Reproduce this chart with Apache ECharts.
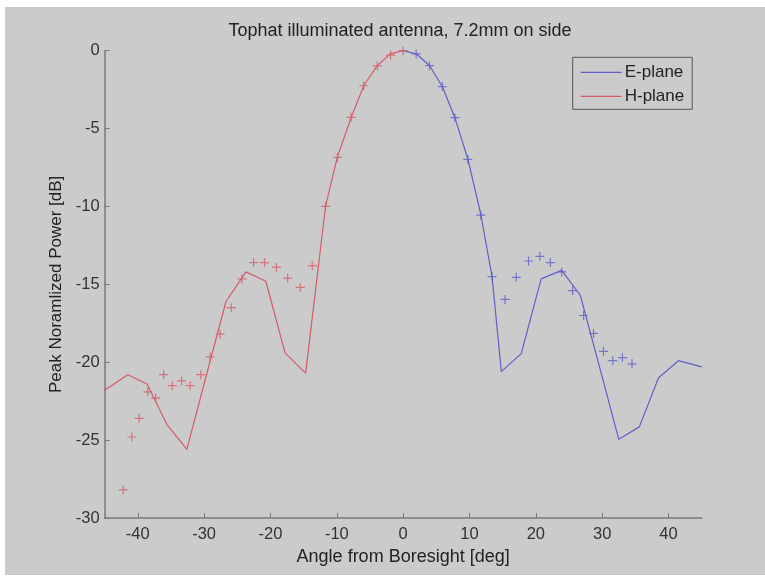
<!DOCTYPE html>
<html>
<head>
<meta charset="utf-8">
<script src="https://cdn.jsdelivr.net/npm/echarts@6/dist/echarts.min.js"></script>
<style>
html,body{margin:0;padding:0;background:#ffffff;}
#chart{position:absolute;left:5px;top:7px;width:760px;height:568px;background:#cbcbcb;}
</style>
</head>
<body>
<div id="chart"></div>
<script>
// Simulated patterns (lines)
const eLineAngles = [0, 1.96, 3.97, 5.9, 7.8, 9.75, 11.7, 13.4, 14.8, 17.8, 20.8, 23.9, 26.7, 29.6, 32.5, 35.6, 38.5, 41.5, 45];
const eLineLevels = [0, -0.2, -0.95, -2.3, -4.3, -6.95, -10.5, -14.5, -20.6, -19.45, -14.65, -14.1, -15.7, -20.3, -24.95, -24.15, -21.0, -19.9, -20.3];
const hLineAngles = [-45, -41.5, -38.6, -35.6, -32.6, -29.7, -26.7, -23.7, -20.7, -17.8, -14.7, -11.7, -9.9, -7.85, -5.9, -3.9, -1.9, 0];
const hLineLevels = [-21.8, -20.8, -21.4, -24.0, -25.6, -20.9, -16.1, -14.2, -14.8, -19.4, -20.7, -10.0, -6.8, -4.3, -2.2, -0.96, -0.2, 0];

// Measured points (+ markers)
const eMeasAngles = [1.96, 3.97, 5.9, 7.8, 9.75, 11.7, 13.4, 15.35, 17.05, 18.9, 20.6, 22.2, 23.9, 25.55, 27.2, 28.7, 30.2, 31.6, 33.05, 34.5];
const eMeasLevels = [-0.21, -0.96, -2.3, -4.3, -6.98, -10.55, -14.5, -15.97, -14.55, -13.5, -13.2, -13.6, -14.2, -15.4, -17.0, -18.15, -19.3, -19.9, -19.7, -20.1];
const hMeasAngles = [-42.2, -40.9, -39.8, -38.5, -37.3, -36.1, -34.8, -33.4, -32.1, -30.5, -29.1, -27.6, -25.9, -24.3, -22.55, -20.9, -19.1, -17.4, -15.5, -13.7, -11.7, -9.9, -7.85, -5.95, -3.9, -1.9, 0];
const hMeasLevels = [-28.2, -24.8, -23.6, -21.9, -22.3, -20.8, -21.5, -21.2, -21.5, -20.8, -19.65, -18.2, -16.5, -14.65, -13.6, -13.6, -13.9, -14.6, -15.2, -13.8, -10.0, -6.85, -4.28, -2.25, -0.98, -0.28, 0];

// Axis ticks
const xTicks = [-40, -30, -20, -10, 0, 10, 20, 30, 40];

const zip = (a, b) => a.map((v, i) => [v, b[i]]);
const RED = '#d45c68';
const BLUE = '#6060c8';
const PLUS = 'path://M0,5L10,5M5,0L5,10';
const FONT = 'Liberation Sans, Arial, Helvetica, sans-serif';

const chart = echarts.init(document.getElementById('chart'), null, {renderer: 'canvas'});
chart.setOption({
  backgroundColor: '#cbcbcb',
  animation: false,
  textStyle: {fontFamily: FONT},
  graphic: [{
    type: 'text',
    x: 395, y: 24,
    style: {
      text: 'Tophat illuminated antenna, 7.2mm on side',
      fontSize: 18, fontFamily: FONT, fill: '#222',
      align: 'center', verticalAlign: 'middle'
    }
  }],
  legend: {
    data: ['E-plane', 'H-plane'],
    orient: 'vertical',
    left: 567.7, top: 50.3,
    padding: [5, 8, 3, 8],
    icon: 'rect',
    itemWidth: 41, itemHeight: 1.3, itemGap: 4,
    borderColor: '#555', borderWidth: 1,
    backgroundColor: '#cbcbcb',
    textStyle: {fontSize: 17, color: '#222', fontFamily: FONT, lineHeight: 20, padding: [0, 0, 0, -2]}
  },
  grid: {left: 99.6, top: 43.7, width: 597.1, height: 467.3, containLabel: false},
  xAxis: {
    type: 'value', min: -45, max: 45,
    name: 'Angle from Boresight [deg]', nameLocation: 'middle', nameGap: 30,
    nameTextStyle: {fontSize: 18, color: '#222', fontFamily: FONT},
    axisLine: {show: true, onZero: false, lineStyle: {color: '#7a7a7a', width: 1.5}},
    axisTick: {show: true, inside: true, length: 5, customValues: xTicks, lineStyle: {color: '#7a7a7a'}},
    axisLabel: {customValues: xTicks, fontSize: 16.5, color: '#333', margin: 8, fontFamily: FONT},
    splitLine: {show: false}
  },
  yAxis: {
    type: 'value', min: -30, max: 0, interval: 5,
    name: 'Peak Noramlized Power [dB]', nameLocation: 'middle', nameGap: 37,
    nameTextStyle: {fontSize: 17, color: '#222', fontFamily: FONT},
    axisLine: {show: true, onZero: false, lineStyle: {color: '#7a7a7a', width: 1.5}},
    axisTick: {show: true, inside: true, length: 5, lineStyle: {color: '#7a7a7a'}},
    axisLabel: {fontSize: 16.5, color: '#333', margin: 5, fontFamily: FONT},
    splitLine: {show: false}
  },
  series: [
    {
      name: 'E-plane', type: 'line', data: zip(eLineAngles, eLineLevels),
      symbol: 'none', lineStyle: {color: BLUE, width: 1.2}, itemStyle: {color: BLUE}, z: 3
    },
    {
      name: 'H-plane', type: 'line', data: zip(hLineAngles, hLineLevels),
      symbol: 'none', lineStyle: {color: RED, width: 1.2}, itemStyle: {color: RED}, z: 3
    },
    {
      name: 'E-plane measured', type: 'scatter', data: zip(eMeasAngles, eMeasLevels),
      symbol: PLUS, symbolSize: 9,
      itemStyle: {color: 'rgba(0,0,0,0)', borderColor: BLUE, borderWidth: 1.2}, z: 4
    },
    {
      name: 'H-plane measured', type: 'scatter', data: zip(hMeasAngles, hMeasLevels),
      symbol: PLUS, symbolSize: 9,
      itemStyle: {color: 'rgba(0,0,0,0)', borderColor: RED, borderWidth: 1.2}, z: 4
    }
  ]
});
</script>
</body>
</html>
